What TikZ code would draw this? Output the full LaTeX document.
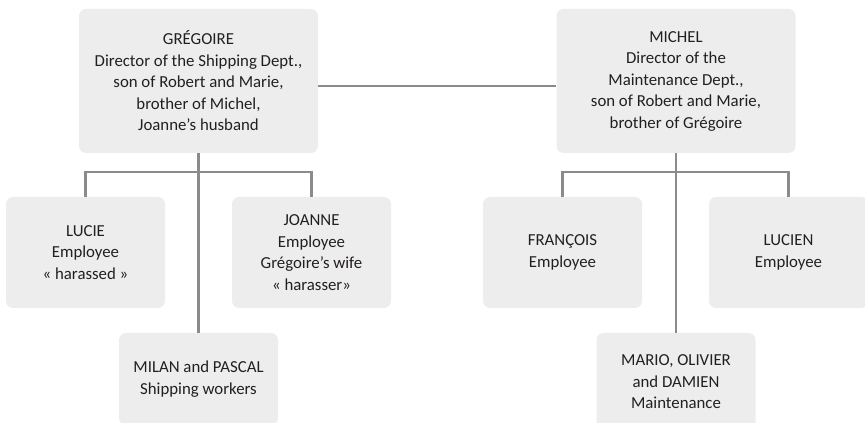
\documentclass[tikz,border=0pt]{standalone}
\definecolor{boxgray}{RGB}{237, 237, 237}
\definecolor{linegray}{RGB}{138, 139, 141}
\definecolor{textdark}{RGB}{35, 31, 32}
\usepackage{fontspec}
\setmainfont{Carlito}
\usepackage{tikz}

\begin{document}
\begin{tikzpicture}[x=1pt, y=1pt,
    person/.style={rectangle, rounded corners=7pt, fill=boxgray, text=textdark, align=center, inner sep=0pt, font=\fontsize{16.8}{21.5}\selectfont},
    director/.style={person, minimum width=239pt, minimum height=144pt},
    staff/.style={person, minimum width=159pt, minimum height=111pt},
    link/.style={draw=linegray, line width=2.3pt}]
            \useasboundingbox (0,0) rectangle (865,423);
            \node[director] (gregoire) at (198.5,342) {GRÉGOIRE\\Director of the Shipping Dept.,\\son of Robert and Marie,\\brother of Michel,\\Joanne’s husband};
            \node[director] (michel) at (676,342) {MICHEL\\Director of the\\Maintenance Dept.,\\son of Robert and Marie,\\brother of Grégoire};
            \node[staff] (lucie) at (85.5,170.5) {LUCIE\\Employee\\« harassed »};
            \node[staff] (joanne) at (311.5,170.5) {JOANNE\\Employee\\Grégoire’s wife\\« harasser»};
            \node[staff, minimum height=92pt] (milan) at (198.5,44) {MILAN and PASCAL\\Shipping workers};
            \node[staff] (francois) at (562.5,170.5) {FRANÇOIS\\Employee};
            \node[staff] (lucien) at (788.5,170.5) {LUCIEN\\Employee};
            \node[staff, minimum height=98pt] (mario) at (676,41) {MARIO, OLIVIER\\and DAMIEN\\Maintenance};
            % family link
            \draw[link] ([yshift=-5pt]gregoire.east) -- ([yshift=-5pt]michel.west);
            % shipping dept.
            \draw[link] (gregoire.south) -- (milan.north);
            \draw[link] (lucie.north) -- ++(0,25) -| (joanne.north);
            % maintenance dept.
            \draw[link] (michel.south) -- (mario.north);
            \draw[link] (francois.north) -- ++(0,25) -| (lucien.north);
        \end{tikzpicture}
\end{document}
